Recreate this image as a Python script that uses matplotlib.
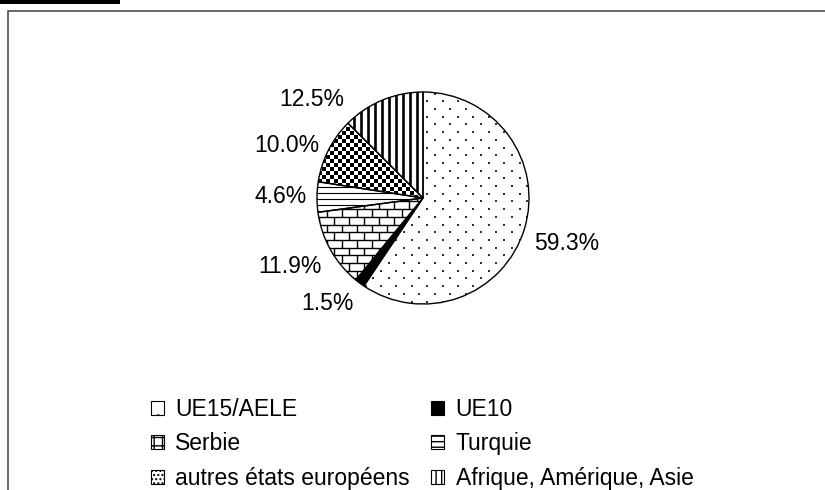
import matplotlib
matplotlib.use("Agg")
import matplotlib.pyplot as plt
import numpy as np
from matplotlib.patches import Rectangle
from matplotlib.collections import LineCollection

# data
categories = ["UE15/AELE", "UE10", "Serbie", "Turquie",
              "autres états européens", "Afrique, Amérique, Asie"]
shares = [59.3, 1.5, 11.9, 4.6, 10.0, 12.5]
pct_labels = [f"{v:.1f}%" for v in shares]

# styling per wedge (legend proxies use plain hatches)
facecolors = ["white", "black", "white", "white", "white", "white"]
legend_hatches = [".", None, "++", "---", "....", "|||"]

plt.rcParams["font.family"] = ["Liberation Sans", "DejaVu Sans"]
plt.rcParams["hatch.linewidth"] = 1.0

W, H = 825, 490
fig = plt.figure(figsize=(W / 100, H / 100), dpi=100)

# chart frame (cropped on right and bottom in the original)
fig.patches.append(Rectangle((8 / W, -0.1), 1.2, (H - 11) / H + 0.1,
                             transform=fig.transFigure, fill=False,
                             edgecolor="#404040", linewidth=1.1))
# black block of the cropped title
fig.patches.append(Rectangle((0, (H - 4) / H), 120 / W, 0.02,
                             transform=fig.transFigure, facecolor="black",
                             edgecolor="none"))

cx, cy, r = 423, 198, 106
ax = fig.add_axes([(cx - r) / W, (H - cy - r) / H, 2 * r / W, 2 * r / H])
PX = 1.0 / r  # data units per pixel

wedges, texts = ax.pie(shares, labels=pct_labels, startangle=90,
                       counterclock=False, labeldistance=1.1,
                       colors=facecolors,
                       wedgeprops=dict(edgecolor="none", zorder=1),
                       textprops=dict(fontsize=16.5, color="black"))
# crisp outlines on top of the fill patterns
ax.pie(shares, startangle=90, counterclock=False,
       wedgeprops=dict(fill=False, edgecolor="black", linewidth=1.0, zorder=5))


def lattice(sx, sy):
    pts = []
    for i, y in enumerate(np.arange(-1.05, 1.05, sy)):
        xs = np.arange(-1.05, 1.05, sx) + (sx / 2 if i % 2 else 0)
        pts += [(x, y) for x in xs]
    return np.array(pts)


def dots(wedge, sx, sy, size, color):
    p = lattice(sx * PX, sy * PX)
    sc = ax.scatter(p[:, 0], p[:, 1], s=size, marker="s", color=color,
                    linewidths=0, zorder=2)
    sc.set_clip_path(wedge)


def lines(wedge, segs, lw):
    lc = LineCollection(segs, colors="black", linewidths=lw, zorder=2)
    ax.add_collection(lc)
    lc.set_clip_path(wedge)


# UE15/AELE: sparse staggered dots
dots(wedges[0], 15.4, 7.7, 1.6, "#333333")
# Serbie: bricks
step_y, step_x = 7.7 * PX, 15.0 * PX
ys = np.arange(-1.05, 1.05, step_y)
segs = [[(-1.1, y), (1.1, y)] for y in ys]
for i, y in enumerate(ys):
    for x in np.arange(-1.05, 1.05, step_x) + (step_x / 2 if i % 2 else 0):
        segs.append([(x, y), (x, y + step_y)])
lines(wedges[2], segs, 1.0)
# Turquie: horizontal lines
lines(wedges[3], [[(-1.1, y), (1.1, y)] for y in np.arange(-1.05, 1.05, 5.8 * PX)], 0.8)
# autres états européens: dense dots
dots(wedges[4], 8.0, 4.0, 5.5, "black")
# Afrique, Amérique, Asie: vertical stripes
lines(wedges[5], [[(x, -1.1), (x, 1.1)] for x in np.arange(-1.05, 1.05, 7.0 * PX)], 1.9)

# label placement like the original: lower labels hang below their anchor
for t in texts:
    if t.get_position()[1] < -0.1:
        t.set_va("top")
# Afrique label is pushed aside in the original
texts[5].set_position((-0.74, 0.93))
ax.set_xlim(-1, 1)
ax.set_ylim(-1, 1)
ax.set_aspect("equal")
ax.axis("off")

proxies = [Rectangle((0, 0), 1, 1, facecolor=fc, edgecolor="black",
                     linewidth=0.8, hatch=h)
           for fc, h in zip(facecolors, legend_hatches)]
order = [0, 2, 4, 1, 3, 5]
fig.legend([proxies[i] for i in order], [categories[i] for i in order],
           ncol=2, loc="upper left", bbox_to_anchor=(151 / W, (H - 398) / H),
           frameon=False, fontsize=16.5, handlelength=0.55, handleheight=0.55,
           handletextpad=0.5, columnspacing=0.95, labelspacing=0.5,
           borderpad=0, borderaxespad=0)

fig.savefig("out.png", dpi=100)
